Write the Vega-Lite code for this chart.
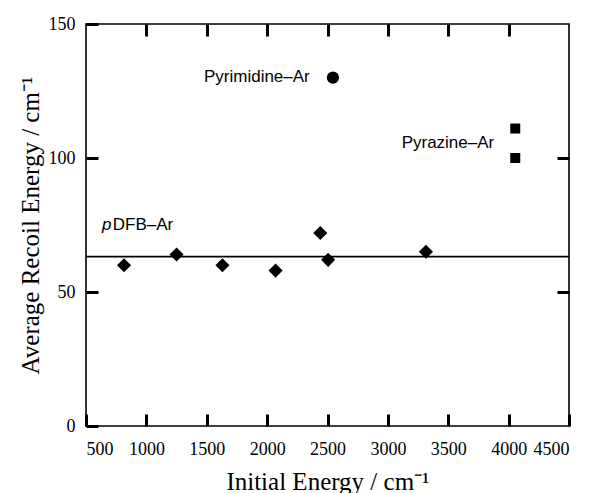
{
  "$schema": "https://vega.github.io/schema/vega-lite/v6.json",
  "width": 483,
  "height": 402,
  "autosize": {"type": "none"},
  "padding": {"left": 86, "top": 24, "right": 20, "bottom": 67},
  "background": "white",
  "config": {
    "view": {"stroke": "black", "strokeWidth": 1.6},
    "axis": {
      "domain": false,
      "grid": false,
      "ticks": true,
      "tickColor": "black",
      "tickWidth": 3,
      "tickSize": 12,
      "offset": -12,
      "labelColor": "black",
      "titleColor": "black",
      "labelFont": "Liberation Serif",
      "titleFont": "Liberation Serif",
      "labelFontSize": 18,
      "titleFontSize": 25,
      "titleFontWeight": "normal"
    }
  },
  "datasets": {
    "pts": [
      {"energy": 815, "recoil": 60, "series": "pDFB-Ar"},
      {"energy": 1250, "recoil": 64, "series": "pDFB-Ar"},
      {"energy": 1630, "recoil": 60, "series": "pDFB-Ar"},
      {"energy": 2070, "recoil": 58, "series": "pDFB-Ar"},
      {"energy": 2440, "recoil": 72, "series": "pDFB-Ar"},
      {"energy": 2505, "recoil": 62, "series": "pDFB-Ar"},
      {"energy": 3315, "recoil": 65, "series": "pDFB-Ar"},
      {"energy": 2545, "recoil": 130, "series": "Pyrimidine-Ar"},
      {"energy": 4055, "recoil": 111, "series": "Pyrazine-Ar"},
      {"energy": 4055, "recoil": 100, "series": "Pyrazine-Ar"}
    ],
    "labels": [
      {"energy": 1477, "recoil": 130.2, "text": "Pyrimidine–Ar"},
      {"energy": 3114, "recoil": 105.7, "text": "Pyrazine–Ar"},
      {"energy": 722, "recoil": 75, "text": "DFB–Ar"}
    ],
    "italic": [
      {"energy": 632, "recoil": 75, "text": "p"}
    ],
    "mean": [{"recoil": 63.2}]
  },
  "layer": [
    {
      "data": {"name": "mean"},
      "mark": {"type": "rule", "color": "black", "strokeWidth": 1.6},
      "encoding": {
        "y": {
          "field": "recoil", "type": "quantitative",
          "scale": {"domain": [0, 150], "nice": false},
          "axis": {"orient": "right", "values": [50, 100], "labels": false, "title": null}
        }
      }
    },
    {
      "data": {"name": "pts"},
      "mark": {"type": "point", "filled": true, "color": "black", "opacity": 1},
      "encoding": {
        "x": {
          "field": "energy", "type": "quantitative",
          "scale": {"domain": [500, 4500], "nice": false},
          "axis": {"orient": "bottom", "tickCount": 8, "format": "d", "labelPadding": 14, "title": "Initial Energy / cm⁻¹", "titlePadding": 11}
        },
        "y": {
          "field": "recoil", "type": "quantitative",
          "scale": {"domain": [0, 150], "nice": false},
          "axis": {"orient": "left", "tickCount": 3, "labelPadding": 11, "title": "Average Recoil Energy / cm⁻¹", "titlePadding": 5}
        },
        "shape": {
          "field": "series", "type": "nominal",
          "scale": {"domain": ["pDFB-Ar", "Pyrimidine-Ar", "Pyrazine-Ar"], "range": ["diamond", "circle", "square"]},
          "legend": null
        },
        "size": {
          "field": "series", "type": "nominal",
          "scale": {"domain": ["pDFB-Ar", "Pyrimidine-Ar", "Pyrazine-Ar"], "range": [200, 100, 150]},
          "legend": null
        }
      }
    },
    {
      "data": {"name": "labels"},
      "mark": {"type": "text", "align": "left", "baseline": "middle", "font": "Liberation Sans", "fontSize": 17, "color": "black"},
      "encoding": {
        "x": {"field": "energy", "type": "quantitative", "scale": {"domain": [500, 4500], "nice": false},
          "axis": {"orient": "top", "values": [1000, 1500, 2000, 2500, 3000, 3500, 4000], "labels": false, "title": null}},
        "y": {"field": "recoil", "type": "quantitative", "axis": null},
        "text": {"field": "text"}
      }
    },
    {
      "data": {"name": "italic"},
      "mark": {"type": "text", "align": "left", "baseline": "middle", "font": "Liberation Sans", "fontStyle": "italic", "fontSize": 17, "color": "black"},
      "encoding": {
        "x": {"field": "energy", "type": "quantitative", "axis": null},
        "y": {"field": "recoil", "type": "quantitative", "axis": null},
        "text": {"field": "text"}
      }
    }
  ],
  "resolve": {"axis": {"x": "independent", "y": "independent"}}
}
